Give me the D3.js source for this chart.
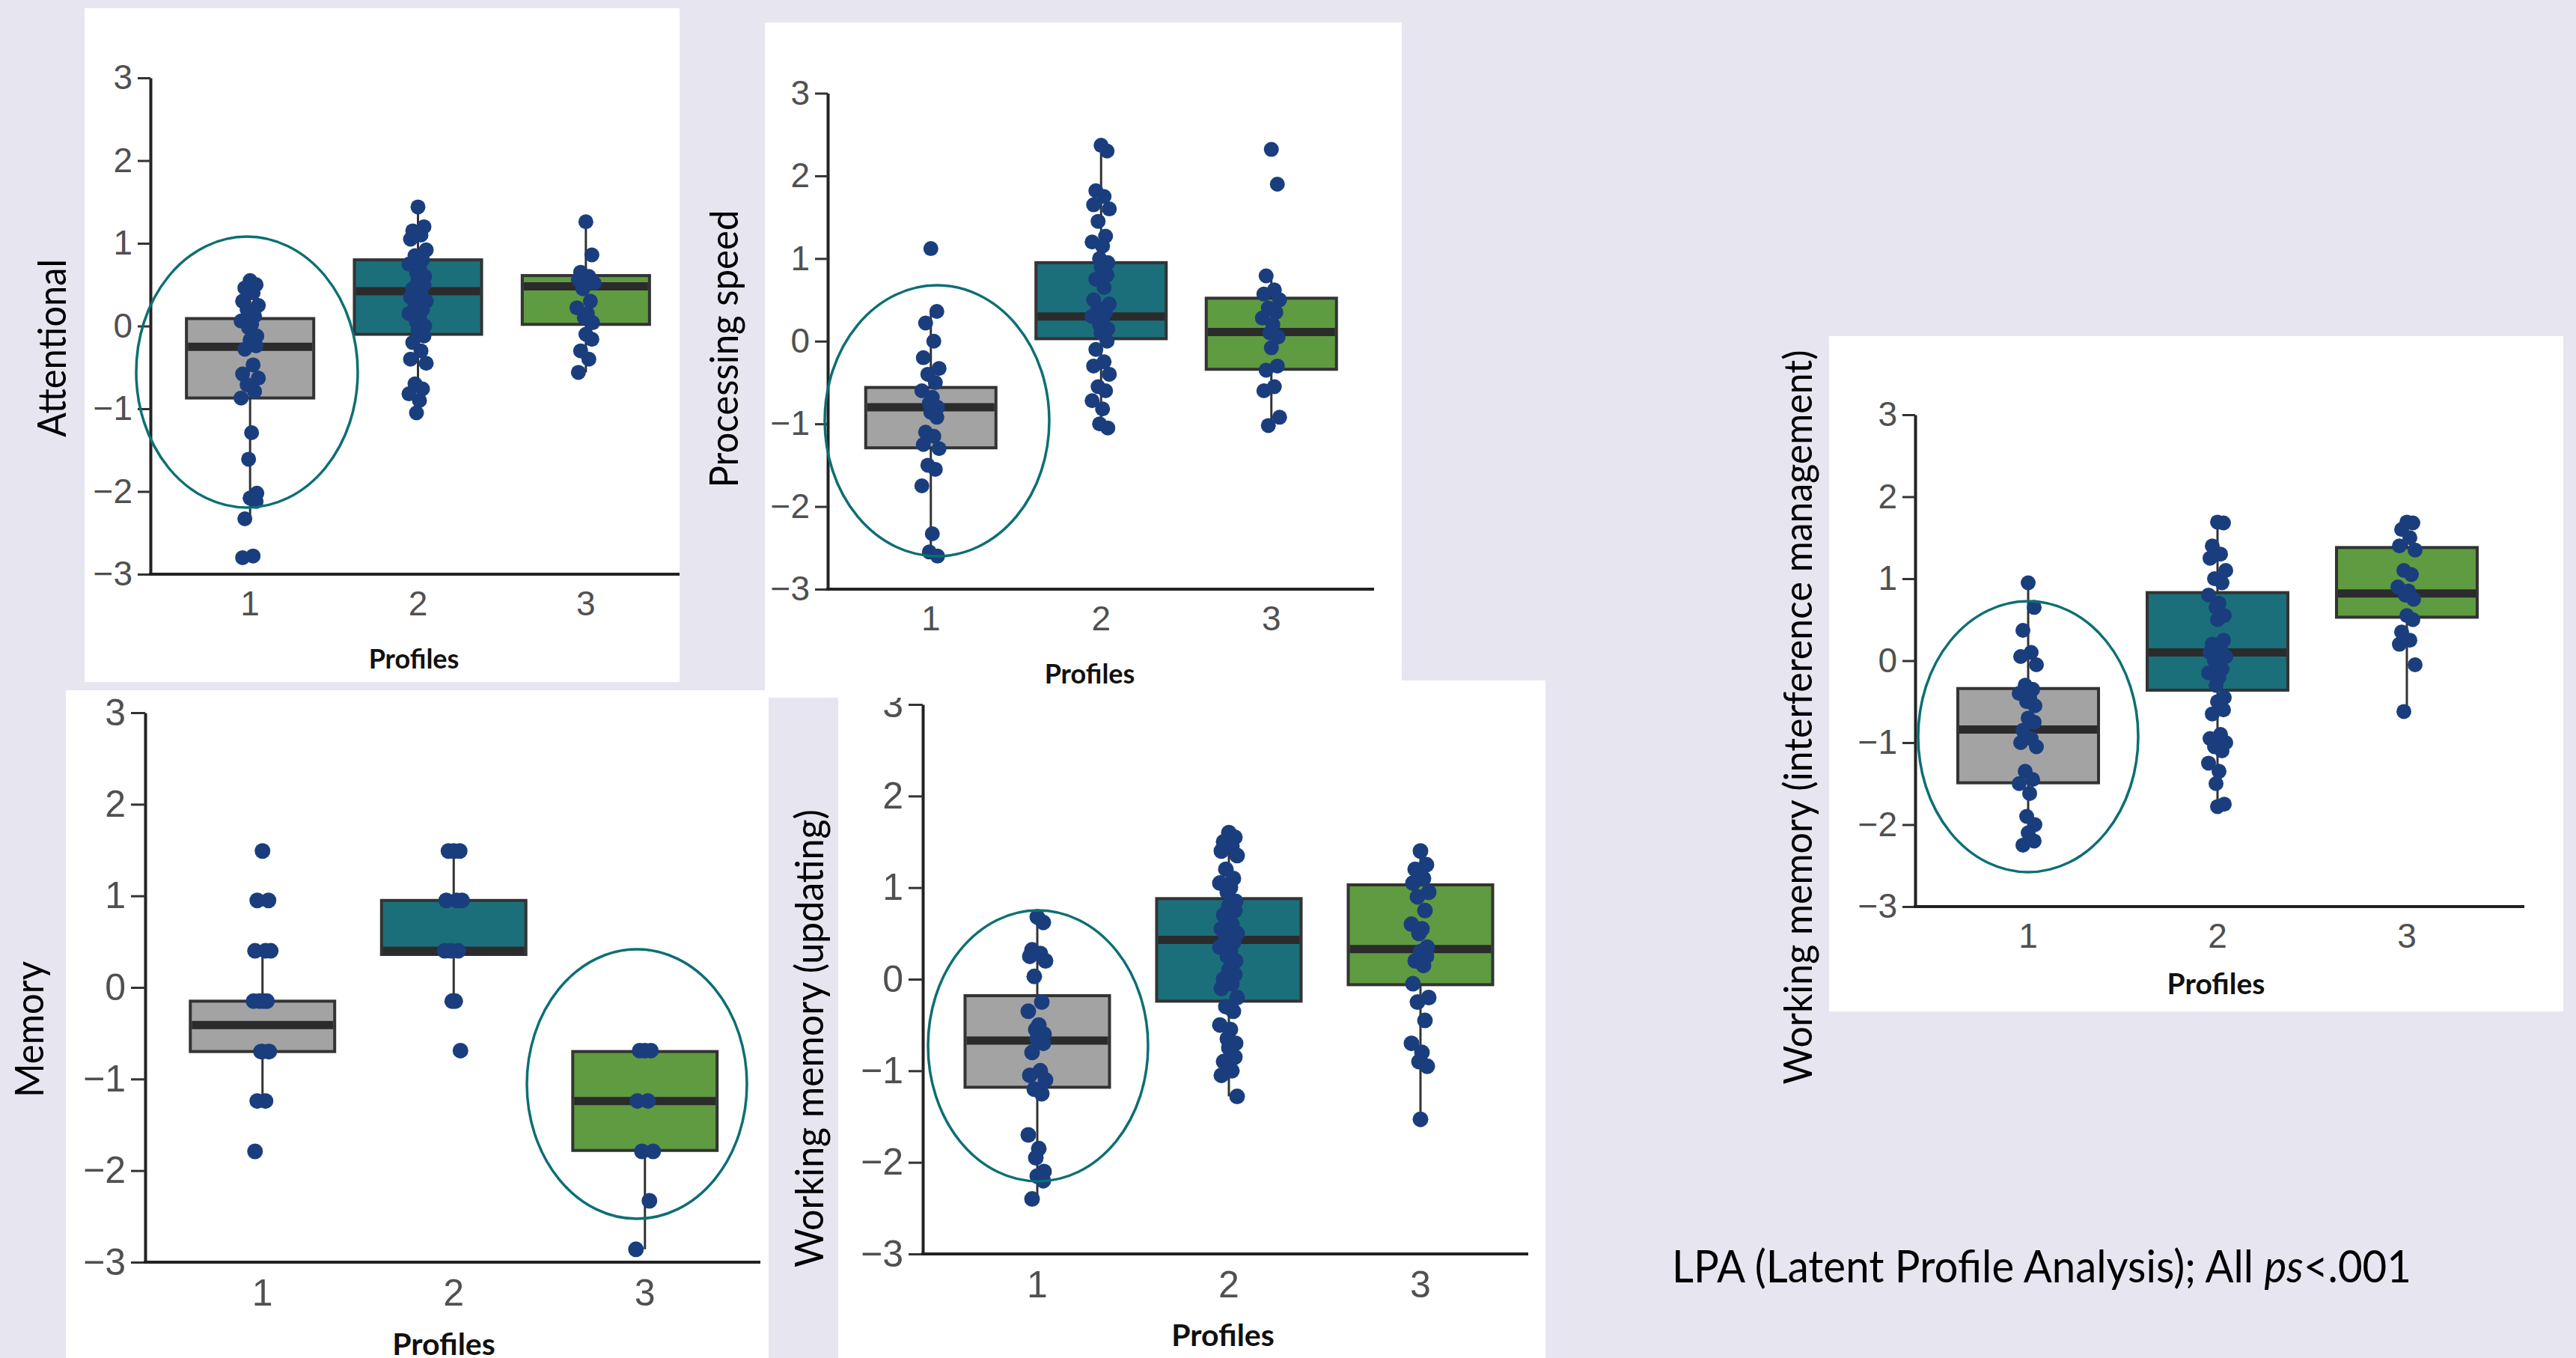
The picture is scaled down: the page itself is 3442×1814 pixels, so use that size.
<!DOCTYPE html>
<html>
<head>
<meta charset="utf-8">
<script src="https://cdn.jsdelivr.net/npm/d3@7"></script>
<style>
html, body { margin: 0; padding: 0; background: #e7e6f0; }
svg { display: block; }
</style>
</head>
<body>
<svg id="slide" width="3442" height="1814"></svg>
<script>
var profiles = ["1", "2", "3"];
var yTicks = [-3, -2, -1, 0, 1, 2, 3];
var boxFill = ["#a3a3a3", "#1b6f7b", "#5f9b40"];

// box stats per profile: [low whisker, q1, median, q3, high whisker]
var attentionalBoxes = [[-2.33, -0.87, -0.25, 0.09, 0.54], [-1.05, -0.10, 0.42, 0.80, 1.44], [-0.56, 0.02, 0.48, 0.61, 1.26]];
var attentionalPoints = [
    [0.55, 0.50, 0.46, 0.40, 0.30, 0.25, 0.20, 0.12, 0.06, 0.02, -0.02, -0.12, -0.17, -0.24, -0.28, -0.47, -0.58, -0.63, -0.71, -0.79, -0.87, -1.29, -1.61, -2.02, -2.08, -2.12, -2.33, -2.78, -2.80],
    [1.44, 1.20, 1.15, 1.10, 1.05, 0.92, 0.85, 0.80, 0.75, 0.70, 0.65, 0.60, 0.55, 0.50, 0.45, 0.40, 0.35, 0.30, 0.25, 0.20, 0.15, 0.10, 0.05, 0.0, -0.05, -0.12, -0.20, -0.30, -0.40, -0.45, -0.70, -0.76, -0.82, -0.90, -1.05],
    [1.26, 0.86, 0.65, 0.60, 0.56, 0.52, 0.45, 0.30, 0.22, 0.15, 0.10, 0.04, -0.10, -0.16, -0.30, -0.40, -0.56]
];

var speedBoxes = [[-2.55, -1.29, -0.80, -0.56, 0.36], [-1.05, 0.03, 0.30, 0.95, 2.37], [-1.02, -0.34, 0.11, 0.52, 0.79]];
var speedPoints = [
    [1.12, 0.36, 0.22, 0.0, -0.20, -0.33, -0.40, -0.50, -0.60, -0.68, -0.75, -0.80, -0.86, -0.92, -1.10, -1.15, -1.25, -1.30, -1.50, -1.55, -1.75, -2.33, -2.55, -2.60],
    [2.37, 2.30, 1.82, 1.75, 1.65, 1.60, 1.45, 1.27, 1.20, 1.15, 1.0, 0.95, 0.90, 0.80, 0.75, 0.65, 0.50, 0.45, 0.40, 0.35, 0.30, 0.25, 0.20, 0.15, 0.10, 0.0, -0.10, -0.25, -0.30, -0.40, -0.55, -0.60, -0.72, -0.82, -1.00, -1.05],
    [2.32, 1.90, 0.79, 0.62, 0.57, 0.50, 0.40, 0.35, 0.28, 0.20, 0.10, 0.05, -0.08, -0.30, -0.35, -0.55, -0.60, -0.92, -1.02]
];

var interferenceBoxes = [[-2.23, -1.49, -0.84, -0.34, 0.96], [-1.77, -0.36, 0.10, 0.83, 1.69], [-0.62, 0.53, 0.82, 1.38, 1.69]];
var interferencePoints = [
    [0.95, 0.65, 0.37, 0.10, 0.05, -0.05, -0.30, -0.35, -0.40, -0.45, -0.50, -0.55, -0.70, -0.75, -0.85, -0.95, -1.00, -1.05, -1.35, -1.45, -1.50, -1.62, -1.90, -2.00, -2.10, -2.20, -2.25],
    [1.69, 1.68, 1.40, 1.30, 1.25, 1.10, 1.00, 0.95, 0.80, 0.70, 0.65, 0.55, 0.50, 0.25, 0.20, 0.15, 0.10, 0.05, 0.0, -0.10, -0.15, -0.20, -0.30, -0.45, -0.50, -0.60, -0.65, -0.90, -0.95, -1.00, -1.05, -1.10, -1.25, -1.35, -1.50, -1.75, -1.78],
    [1.69, 1.68, 1.60, 1.50, 1.40, 1.35, 1.10, 1.05, 0.90, 0.85, 0.80, 0.75, 0.55, 0.50, 0.35, 0.25, 0.20, -0.05, -0.62]
];

var memoryBoxes = [[-1.24, -0.70, -0.41, -0.15, 0.40], [-0.14, 0.36, 0.40, 0.95, 1.49], [-2.86, -1.78, -1.24, -0.70, -0.70]];
var memoryPoints = [
    [1.49, 0.95, 0.95, 0.40, 0.40, 0.40, -0.15, -0.15, -0.15, -0.15, -0.70, -0.70, -0.70, -0.70, -1.24, -1.24, -1.79],
    [1.49, 1.49, 1.49, 0.95, 0.95, 0.95, 0.40, 0.40, 0.40, -0.15, -0.15, -0.69],
    [-0.69, -0.69, -0.69, -1.24, -1.24, -1.79, -1.79, -2.33, -2.86]
];

var updatingBoxes = [[-2.40, -1.18, -0.67, -0.18, 0.68], [-1.28, -0.24, 0.43, 0.88, 1.60], [-1.53, -0.06, 0.33, 1.03, 1.40]];
var updatingPoints = [
    [0.68, 0.62, 0.32, 0.28, 0.25, 0.20, 0.03, -0.25, -0.35, -0.50, -0.55, -0.60, -0.65, -0.70, -0.80, -1.00, -1.05, -1.10, -1.20, -1.25, -1.70, -1.85, -1.95, -2.10, -2.15, -2.20, -2.40],
    [1.60, 1.55, 1.50, 1.45, 1.40, 1.35, 1.20, 1.10, 1.05, 1.00, 0.95, 0.85, 0.80, 0.75, 0.70, 0.60, 0.55, 0.50, 0.45, 0.40, 0.35, 0.30, 0.25, 0.20, 0.10, 0.05, 0.0, -0.05, -0.10, -0.20, -0.30, -0.35, -0.50, -0.55, -0.65, -0.70, -0.75, -0.85, -0.90, -1.00, -1.05, -1.28],
    [1.40, 1.25, 1.20, 1.10, 1.05, 0.95, 0.90, 0.75, 0.60, 0.55, 0.50, 0.35, 0.30, 0.25, 0.20, 0.15, -0.05, -0.20, -0.25, -0.45, -0.70, -0.80, -0.90, -0.95, -1.53]
];

// small horizontal jitter for the strip points (pixels)
var jitter = [0, 8, -7, 4, -10, 11, -4, 6, -12, 2, -2, 9];

// drawing order matters: later panels sit on top of earlier ones
var panels = [
    { label: "Working memory (updating)", boxes: updatingBoxes, points: updatingPoints,
      bg: [1120, 909, 2065, 1814], strip: [1027, 941, 1120, 1814],
      axisX: 1233, axisEnd: 2042, yTop: 941, yBot: 1675, band: [1258, 2026], pad: 0.246,
      tickFont: 50, tickLen: 19, labelX: 1082, labelY: 1387, labelLen: 612, profX: 1634, profY: 1798, profFont: 41,
      r: 10.5, ellipse: [1387, 1397, 147, 181] },
    { label: "Memory", boxes: memoryBoxes, points: memoryPoints,
      bg: [88, 922, 1027, 1814],
      axisX: 194, axisEnd: 1016, yTop: 952, yBot: 1686, band: [223, 989.5], pad: 0.245,
      tickFont: 50, tickLen: 19, labelX: 40, labelY: 1375, labelLen: 182, profX: 593, profY: 1810, profFont: 41,
      r: 10.5, ellipse: [851, 1448, 147, 180] },
    { label: "Attentional", boxes: attentionalBoxes, points: attentionalPoints,
      bg: [113, 11, 908, 911],
      axisX: 201, axisEnd: 908, yTop: 104, yBot: 767, band: [222, 895], pad: 0.242,
      tickFont: 46, tickLen: 17, labelX: 70, labelY: 465, labelLen: 238, profX: 553, profY: 893, profFont: 36,
      r: 10, ellipse: [330, 497, 148, 181] },
    { label: "Processing speed", boxes: speedBoxes, points: speedPoints,
      bg: [1022, 30, 1873, 932],
      axisX: 1106, axisEnd: 1836, yTop: 124.5, yBot: 787, band: [1130, 1812.5], pad: 0.235,
      tickFont: 46, tickLen: 17, labelX: 968, labelY: 466, labelLen: 371, profX: 1456, profY: 913, profFont: 36,
      r: 10, ellipse: [1252, 562, 150, 181] },
    { label: "Working memory (interference management)", boxes: interferenceBoxes, points: interferencePoints,
      bg: [2444, 449, 3425, 1351],
      axisX: 2559, axisEnd: 3373, yTop: 554, yBot: 1211, band: [2583.5, 3342.5], pad: 0.257,
      tickFont: 46, tickLen: 17, labelX: 2403, labelY: 958, labelLen: 981, profX: 2961, profY: 1328, profFont: 39,
      r: 10, ellipse: [2710, 984, 147, 181] }
];

var svg = d3.select("#slide");

svg.append("rect")
    .attr("width", 3442)
    .attr("height", 1814)
    .attr("fill", "#e7e6f0");

function drawPanel(p) {
    var g = svg.append("g");

    g.append("rect")
        .attr("x", p.bg[0]).attr("y", p.bg[1])
        .attr("width", p.bg[2] - p.bg[0]).attr("height", p.bg[3] - p.bg[1])
        .attr("fill", "#ffffff");

    if (p.strip) {
        g.append("rect")
            .attr("x", p.strip[0]).attr("y", p.strip[1])
            .attr("width", p.strip[2] - p.strip[0]).attr("height", p.strip[3] - p.strip[1])
            .attr("fill", "#e7e6f0");
    }

    var y = d3.scaleLinear().domain([-3, 3]).range([p.yBot, p.yTop]);
    var x = d3.scaleBand()
        .domain(profiles)
        .range(p.band)
        .paddingInner(p.pad)
        .paddingOuter(p.pad / 2);
    var bw = x.bandwidth();
    var cx = (i) => x(profiles[i]) + bw / 2;

    // y axis
    var yAxis = g.append("g")
        .attr("transform", `translate(${p.axisX},0)`)
        .call(d3.axisLeft(y).tickValues(yTicks).tickSize(p.tickLen).tickSizeOuter(0).tickPadding(7).tickFormat(d3.format("d")));
    yAxis.select(".domain").attr("stroke", "#222").attr("stroke-width", 4);
    yAxis.selectAll(".tick line").attr("stroke", "#333").attr("stroke-width", 3);
    yAxis.selectAll(".tick text")
        .attr("fill", "#505050")
        .style("font-family", "'Liberation Sans', Arial, sans-serif")
        .style("font-size", p.tickFont + "px");

    // x axis
    var xAxis = g.append("g")
        .attr("transform", `translate(0,${y(-3)})`)
        .call(d3.axisBottom(x).tickSize(0).tickPadding(22));
    xAxis.select(".domain").remove();
    xAxis.selectAll(".tick text")
        .attr("fill", "#505050")
        .style("font-family", "'Liberation Sans', Arial, sans-serif")
        .style("font-size", p.tickFont + "px");
    g.append("line")
        .attr("x1", p.axisX - 2).attr("x2", p.axisEnd)
        .attr("y1", y(-3)).attr("y2", y(-3))
        .attr("stroke", "#222").attr("stroke-width", 4);

    // whiskers
    g.selectAll(".whisker")
        .data(p.boxes)
        .join("line")
        .attr("class", "whisker")
        .attr("x1", (d, i) => cx(i)).attr("x2", (d, i) => cx(i))
        .attr("y1", (d) => y(d[0])).attr("y2", (d) => y(d[4]))
        .attr("stroke", "#333").attr("stroke-width", 3);

    // boxes
    g.selectAll(".box")
        .data(p.boxes)
        .join("rect")
        .attr("class", "box")
        .attr("x", (d, i) => x(profiles[i]))
        .attr("width", bw)
        .attr("y", (d) => y(d[3]))
        .attr("height", (d) => y(d[1]) - y(d[3]))
        .attr("fill", (d, i) => boxFill[i])
        .attr("stroke", "#333")
        .attr("stroke-width", 4);

    // medians
    g.selectAll(".median")
        .data(p.boxes)
        .join("line")
        .attr("class", "median")
        .attr("x1", (d, i) => x(profiles[i]) + 2).attr("x2", (d, i) => x(profiles[i]) + bw - 2)
        .attr("y1", (d) => y(d[2])).attr("y2", (d) => y(d[2]))
        .attr("stroke", "#2b2b2b").attr("stroke-width", 11);

    // points
    p.points.forEach((vals, i) => {
        g.append("g")
            .selectAll("circle")
            .data(vals)
            .join("circle")
            .attr("cx", (d, j) => cx(i) + jitter[j % jitter.length])
            .attr("cy", (d) => y(d))
            .attr("r", p.r)
            .attr("fill", "#1a3e7d");
    });

    // highlight ellipse
    g.append("ellipse")
        .attr("cx", p.ellipse[0]).attr("cy", p.ellipse[1])
        .attr("rx", p.ellipse[2]).attr("ry", p.ellipse[3])
        .attr("fill", "none")
        .attr("stroke", "#0c6f74")
        .attr("stroke-width", 3.5);

    // axis titles
    g.append("text")
        .attr("transform", `translate(${p.labelX},${p.labelY}) rotate(-90)`)
        .attr("text-anchor", "middle")
        .attr("dy", "0.35em")
        .attr("textLength", p.labelLen)
        .attr("lengthAdjust", "spacingAndGlyphs")
        .style("font-family", "Lato, 'Open Sans', sans-serif")
        .style("font-size", "52px")
        .attr("fill", "#000")
        .text(p.label);

    g.append("text")
        .attr("x", p.profX).attr("y", p.profY)
        .attr("text-anchor", "middle")
        .style("font-family", "Lato, 'Open Sans', sans-serif")
        .style("font-weight", "bold")
        .style("font-size", p.profFont + "px")
        .attr("fill", "#111")
        .text("Profiles");
}

panels.forEach(drawPanel);

var note = svg.append("text")
    .attr("x", 2234).attr("y", 1713)
    .attr("textLength", 988)
    .attr("lengthAdjust", "spacingAndGlyphs")
    .style("font-family", "Lato, 'Open Sans', sans-serif")
    .style("font-size", "60px")
    .attr("fill", "#000");
note.append("tspan").text("LPA (Latent Profile Analysis); All ");
note.append("tspan").style("font-style", "italic").text("ps");
note.append("tspan").text("<.001");
</script>
</body>
</html>
